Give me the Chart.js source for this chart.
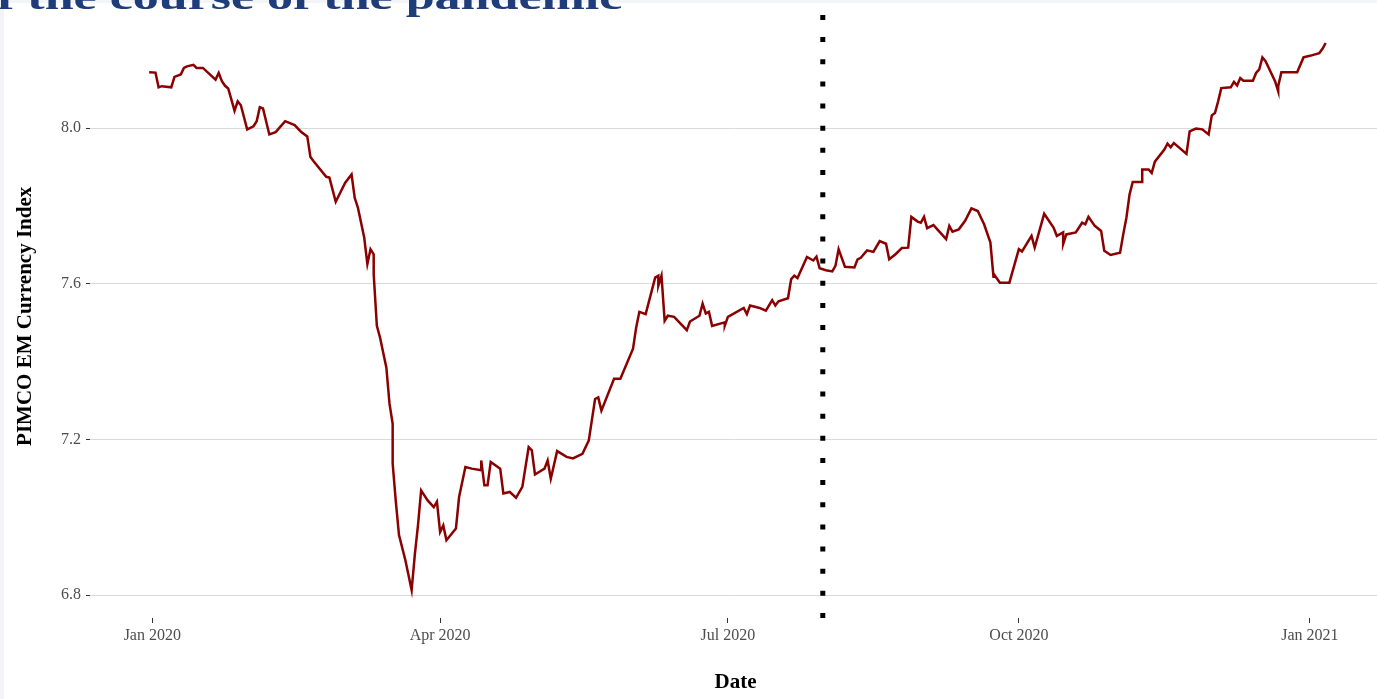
<!DOCTYPE html>
<html>
<head>
<meta charset="utf-8">
<script src="https://cdn.jsdelivr.net/npm/chart.js@4.4.1/dist/chart.umd.min.js"></script>
<style>
    html, body { margin: 0; padding: 0; background: #fff; overflow: hidden; }
    #wrap { position: relative; width: 1381px; height: 699px; }
    #slide_title {
        position: absolute; left: -29px; top: -34.25px; white-space: nowrap;
        font: bold 52px "Liberation Serif", "Times New Roman", serif;
        line-height: 52px; color: #1F3D7A; z-index: 2;
        transform: scaleY(0.68); transform-origin: 0 43.55px;
    }
    #edge_left { position: absolute; left: 0; top: 0; width: 4px; height: 699px; background: #F2F4F7; z-index: 1; }
    #edge_top { position: absolute; left: 0; top: 0; width: 1381px; height: 3px; background: #F2F4F7; z-index: 1; }
</style>
</head>
<body>
<div id="wrap">
    <div id="edge_left"></div>
    <div id="edge_top"></div>
    <div id="slide_title">of the course of the pandemic</div>
    <canvas id="em_currency_chart"></canvas>
</div>
<script>
// PIMCO EM currency index
// days = days since 1 Jan 2020
const days = [-1, 1, 2, 3, 6, 7, 9, 10, 11, 13, 14, 16, 20, 21, 22, 23, 24, 26, 27, 28,
    30, 32, 33, 34, 35, 37, 39, 42, 45, 47, 49, 50, 51, 55, 56, 58, 61, 63, 64, 65,
    67, 68, 69, 70, 70, 71, 72, 74, 75, 76, 76, 77, 78, 80, 82, 83, 84, 85, 87, 89,
    90, 91, 92, 93, 96, 97, 99, 101, 104, 104, 105, 106, 107, 110, 111, 113, 115, 117, 119, 120,
    121, 124, 125, 126, 128, 131, 133, 136, 138, 140, 141, 142, 146, 148, 152, 153, 154, 156, 159, 160,
    160, 161, 162, 163, 165, 169, 170, 173, 174, 175, 176, 177, 181, 181, 182, 187, 188, 189, 192, 194,
    196, 197, 198, 201, 202, 203, 204, 207, 209, 210, 211, 213, 215, 216, 217, 219, 222, 223, 224, 226,
    228, 230, 232, 233, 235, 237, 239, 240, 242, 243, 244, 245, 247, 251, 252, 253, 255, 257, 259, 261,
    263, 265, 266, 266, 268, 271, 274, 275, 278, 279, 282, 285, 286, 288, 288, 289, 292, 294, 295, 296,
    298, 300, 301, 303, 306, 307, 308, 309, 310, 313, 313, 315, 316, 317, 320, 321, 322, 323, 327, 328,
    330, 332, 334, 335, 336, 337, 338, 341, 342, 343, 344, 345, 348, 349, 350, 351, 352, 355, 356, 356,
    357, 362, 364, 366, 369, 370, 371];
const index_values = [8.144, 8.143, 8.105, 8.108, 8.105, 8.132, 8.138, 8.155, 8.159, 8.163, 8.155, 8.155, 8.125, 8.142, 8.121, 8.109, 8.102, 8.045, 8.069, 8.059,
    7.997, 8.005, 8.018, 8.054, 8.051, 7.984, 7.990, 8.018, 8.008, 7.991, 7.979, 7.926, 7.915, 7.875, 7.873, 7.811, 7.860, 7.881, 7.821, 7.796,
    7.719, 7.651, 7.689, 7.676, 7.625, 7.492, 7.462, 7.385, 7.292, 7.240, 7.138, 7.040, 6.954, 6.890, 6.813, 6.903, 6.979, 7.069, 7.044, 7.026,
    7.040, 6.962, 6.979, 6.941, 6.971, 7.052, 7.129, 7.125, 7.121, 7.146, 7.082, 7.082, 7.142, 7.125, 7.061, 7.065, 7.050, 7.078, 7.180, 7.172,
    7.110, 7.125, 7.146, 7.099, 7.170, 7.155, 7.151, 7.163, 7.197, 7.304, 7.308, 7.274, 7.356, 7.356, 7.433, 7.488, 7.528, 7.522, 7.616, 7.621,
    7.595, 7.621, 7.505, 7.518, 7.515, 7.481, 7.503, 7.518, 7.549, 7.524, 7.528, 7.492, 7.501, 7.492, 7.515, 7.538, 7.522, 7.544, 7.538, 7.531,
    7.558, 7.544, 7.555, 7.563, 7.612, 7.621, 7.615, 7.669, 7.660, 7.670, 7.640, 7.635, 7.632, 7.646, 7.689, 7.644, 7.642, 7.663, 7.667, 7.686,
    7.682, 7.710, 7.703, 7.663, 7.676, 7.692, 7.693, 7.772, 7.760, 7.757, 7.772, 7.743, 7.751, 7.715, 7.749, 7.734, 7.740, 7.762, 7.794, 7.787,
    7.753, 7.706, 7.615, 7.626, 7.603, 7.603, 7.689, 7.683, 7.723, 7.693, 7.780, 7.744, 7.723, 7.732, 7.702, 7.727, 7.732, 7.757, 7.753, 7.772,
    7.749, 7.736, 7.685, 7.674, 7.680, 7.727, 7.770, 7.830, 7.862, 7.862, 7.894, 7.894, 7.885, 7.914, 7.945, 7.960, 7.951, 7.962, 7.934, 7.992,
    7.999, 7.997, 7.984, 8.033, 8.039, 8.069, 8.103, 8.105, 8.119, 8.110, 8.129, 8.122, 8.122, 8.142, 8.151, 8.182, 8.172, 8.121, 8.095, 8.108,
    8.144, 8.144, 8.182, 8.186, 8.193, 8.204, 8.219];

const x_tick_dates = ["2020-01-01", "2020-04-01", "2020-07-01", "2020-10-01", "2021-01-01"];
const x_tick_labels = ["Jan 2020", "Apr 2020", "Jul 2020", "Oct 2020", "Jan 2021"];
const y_ticks = [6.8, 7.2, 7.6, 8.0];
const event_date = "2020-07-31";

const day0 = Date.parse("2020-01-01");
const dayOf = (d) => (Date.parse(d) - day0) / 86400000;
const serif = "'Liberation Serif', 'Times New Roman', serif";

// vertical dotted marker
const eventLine = {
    id: "eventLine",
    afterDatasetsDraw(chart) {
        const { ctx, chartArea, scales } = chart;
        const x = scales.x.getPixelForValue(dayOf(event_date));
        ctx.save();
        ctx.strokeStyle = "#000";
        ctx.lineWidth = 5;
        ctx.setLineDash([5, 17.15]);
        ctx.beginPath();
        ctx.moveTo(x, chartArea.bottom);
        ctx.lineTo(x, chartArea.top);
        ctx.stroke();
        ctx.restore();
    },
};

const em_chart = document.getElementById("em_currency_chart");
new Chart(em_chart, {
    type: "line",
    data: {
        datasets: [
            {
                data: days.map((d, i) => ({ x: d, y: index_values[i] })),
                borderColor: "#8B0000",
                borderWidth: 2.5,
                pointRadius: 0,
                tension: 0,
                fill: false,
            },
        ],
    },
    options: {
        responsive: true,
        maintainAspectRatio: false,
        animation: false,
        layout: { padding: { top: 13, left: 0, right: 0, bottom: 0 } },
        plugins: {
            legend: { display: false },
            tooltip: { enabled: false },
        },
        scales: {
            x: {
                type: "linear",
                min: -19.7,
                max: 388.5,
                afterFit: (s) => { s.height = 81; },
                afterBuildTicks: (s) => { s.ticks = x_tick_dates.map((d) => ({ value: dayOf(d) })); },
                border: { display: false },
                grid: { color: "rgba(0,0,0,0)", tickColor: "#333", tickLength: 5, drawTicks: true },
                ticks: {
                    padding: 3,
                    maxRotation: 0,
                    color: "#4D4D4D",
                    font: { family: serif, size: 16 },
                    callback: (v) => x_tick_labels[x_tick_dates.findIndex((d) => dayOf(d) === v)],
                },
                title: {
                    display: true,
                    text: "Date",
                    color: "#000",
                    font: { family: serif, size: 21, weight: "bold" },
                    padding: { top: 0, bottom: 3.4 },
                },
            },
            y: {
                min: 6.741,
                max: 8.292,
                afterFit: (s) => { s.width = 90; },
                afterBuildTicks: (s) => { s.ticks = y_ticks.map((v) => ({ value: v })); },
                border: { display: false },
                grid: { color: "#DADADA", lineWidth: 1, tickColor: "#333", tickLength: 4 },
                ticks: {
                    padding: 5,
                    color: "#4D4D4D",
                    font: { family: serif, size: 16 },
                    callback: (v) => v.toFixed(1),
                },
                title: {
                    display: true,
                    text: "PIMCO EM Currency Index",
                    color: "#000",
                    font: { family: serif, size: 21, weight: "bold" },
                    padding: { top: 13.4, bottom: 0 },
                },
            },
        },
    },
    plugins: [eventLine],
});
</script>
</body>
</html>
